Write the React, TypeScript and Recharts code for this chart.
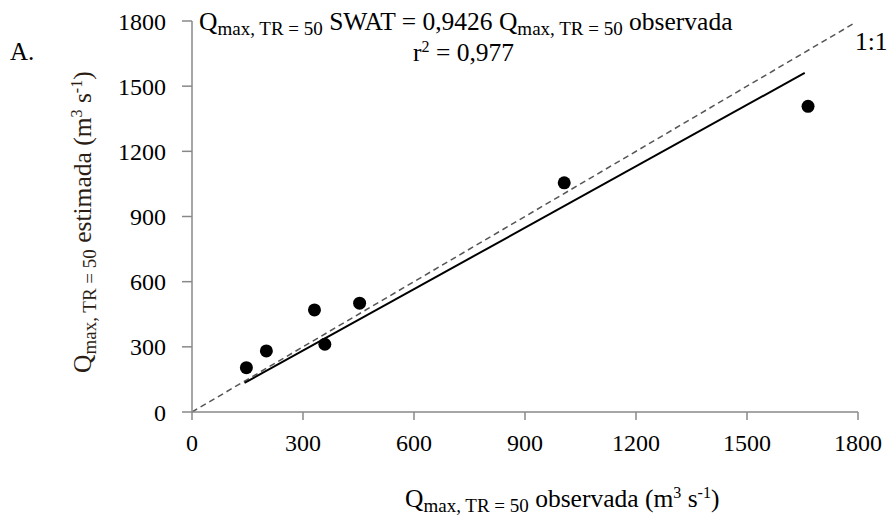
import { ComposedChart, Scatter, XAxis, YAxis, ReferenceLine, Customized } from 'recharts'

const observed = [147, 201, 331, 359, 453, 1006, 1665]
const estimated = [204, 281, 470, 312, 501, 1055, 1407]
const axisTicks = [0, 300, 600, 900, 1200, 1500, 1800]
const slope = 0.9426
const fitRange = [142, 1656]
const identityRange = [0, 1792]

const points = observed.map((x, i) => ({ x, y: estimated[i] }))

const FONT = "'Liberation Serif', 'Times New Roman', serif"
const AXIS = '#888888'
const MAIN = 25.5
const SUB = 19
const SUP = 16

function Annotations() {
  return (
    <g fontFamily={FONT} fill='#000'>
      <text x={199} y={30} fontSize={MAIN}>
        Q
        <tspan fontSize={SUB} dy={5}>max, TR = 50</tspan>
        <tspan dy={-5}> SWAT = 0,9426 Q</tspan>
        <tspan fontSize={SUB} dy={5}>max, TR = 50</tspan>
        <tspan dy={-5}> observada</tspan>
      </text>
      <text x={413} y={61} fontSize={MAIN}>
        r<tspan fontSize={SUP} dy={-9}>2</tspan>
        <tspan dy={9}> = 0,977</tspan>
      </text>
      <text x={855} y={50} fontSize={MAIN}>1:1</text>
      <text x={10} y={60} fontSize={25}>A.</text>
    </g>
  )
}

function XTitle() {
  return (
    <text x={405} y={507} fontFamily={FONT} fontSize={MAIN} fill='#000'>
      Q
      <tspan fontSize={SUB} dy={5}>max, TR = 50</tspan>
      <tspan dy={-5}> observada (m</tspan>
      <tspan fontSize={SUP} dy={-9}>3</tspan>
      <tspan dy={9}> s</tspan>
      <tspan fontSize={SUP} dy={-9}>-1</tspan>
      <tspan dy={9}>)</tspan>
    </text>
  )
}

function YTitle() {
  return (
    <text
      transform='translate(91, 373) rotate(-90)'
      fontFamily={FONT}
      fontSize={MAIN}
      fill='#2b1d14'
    >
      Q
      <tspan fontSize={SUB} dy={5}>max, TR = 50</tspan>
      <tspan dy={-5}> estimada (m</tspan>
      <tspan fontSize={SUP} dy={-9}>3</tspan>
      <tspan dy={9}> s</tspan>
      <tspan fontSize={SUP} dy={-9}>-1</tspan>
      <tspan dy={9}>)</tspan>
    </text>
  )
}

export default function App() {
  return (
    <div style={{ position: 'absolute', left: 0, top: 0, background: '#fff' }}>
      <ComposedChart
        width={890}
        height={519}
        margin={{ top: 21, right: 32, bottom: 67, left: 132 }}
      >
        <XAxis
          type='number'
          dataKey='x'
          domain={[0, 1800]}
          ticks={axisTicks}
          interval={0}
          height={40}
          stroke={AXIS}
          strokeWidth={1.5}
          tickSize={8}
          tickMargin={14}
          tick={{ fill: '#000', fontSize: 24, fontFamily: FONT }}
        />
        <YAxis
          type='number'
          dataKey='y'
          domain={[0, 1800]}
          ticks={axisTicks}
          interval={0}
          width={60}
          stroke={AXIS}
          strokeWidth={1.5}
          tickSize={10}
          tickMargin={16}
          tick={{ fill: '#000', fontSize: 24, fontFamily: FONT }}
        />
        <ReferenceLine
          segment={[
            { x: identityRange[0], y: identityRange[0] },
            { x: identityRange[1], y: identityRange[1] },
          ]}
          stroke='#555555'
          strokeWidth={1.5}
          strokeDasharray='6 4'
          ifOverflow='visible'
        />
        <ReferenceLine
          segment={[
            { x: fitRange[0], y: fitRange[0] * slope },
            { x: fitRange[1], y: fitRange[1] * slope },
          ]}
          stroke='#000'
          strokeWidth={2}
          ifOverflow='visible'
        />
        <Scatter
          data={points}
          fill='#000'
          isAnimationActive={false}
          shape={(p: any) => <circle cx={p.cx} cy={p.cy} r={6.5} fill='#000' />}
        />
        <Customized component={Annotations} />
        <Customized component={XTitle} />
        <Customized component={YTitle} />
      </ComposedChart>
    </div>
  )
}
